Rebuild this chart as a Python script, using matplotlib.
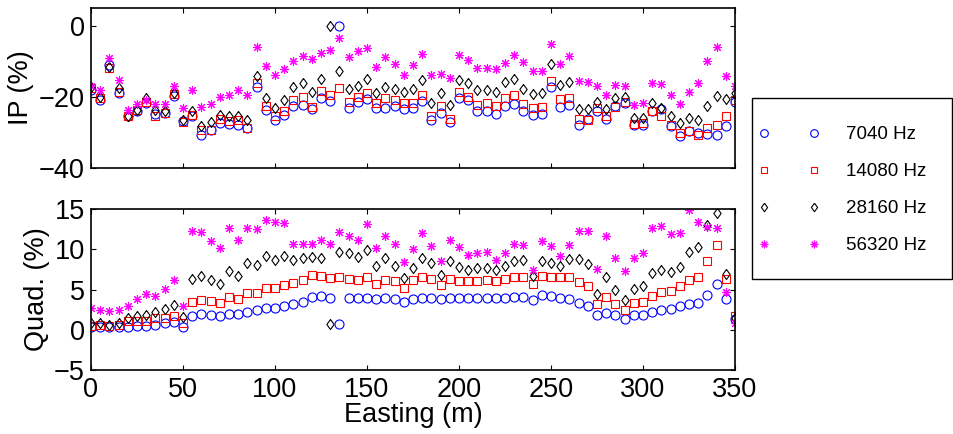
import matplotlib
matplotlib.use("Agg")
import matplotlib.pyplot as plt
import matplotlib.patches as patches
from matplotlib.lines import Line2D

plt.rcParams['font.family'] = ['Liberation Sans', 'DejaVu Sans']

# station positions along the line (m)
easting = list(range(0, 351, 5))

freq_labels = ['7040 Hz', '14080 Hz', '28160 Hz', '56320 Hz']

# in-phase response (%)
ip_7040 = [-18.0, -20.8, -11.0, -18.8, -25.5, -23.9, -21.6, -24.8, -24.6, -19.7,
           -26.9, -25.3, -30.7, -29.4, -27.4, -27.7, -27.9, -28.8, -17.3, -23.6,
           -26.4, -25.1, -22.7, -22.2, -23.4, -20.4, -21.1, -0.1, -23.2, -21.3,
           -20.7, -23.2, -23.2, -22.7, -23.5, -23.2, -21.1, -26.6, -24.4, -27.2,
           -20.2, -20.8, -24.1, -24.1, -24.8, -22.5, -22.0, -24.1, -25.0, -24.8,
           -17.3, -22.9, -22.2, -27.9, -26.3, -23.9, -26.3, -22.7, -21.6, -28.0,
           -28.0, -24.1, -23.5, -28.1, -31.1, -29.7, -30.2, -30.5, -30.8, -28.3,
           -21.3]
ip_14080 = [-17.6, -20.4, -11.8, -18.5, -25.5, -23.8, -21.3, -25.5, -24.4, -19.3,
            -27.2, -25.0, -29.3, -29.3, -26.3, -26.9, -26.4, -28.8, -16.2, -22.5,
            -25.5, -24.1, -20.8, -20.1, -22.9, -18.3, -19.4, -17.4, -21.5, -20.1,
            -19.0, -21.6, -20.4, -20.8, -21.8, -21.6, -19.4, -25.3, -22.5, -26.2,
            -18.7, -19.9, -22.2, -21.8, -22.7, -20.2, -19.4, -22.0, -23.0, -22.9,
            -15.4, -20.6, -20.4, -26.3, -26.4, -23.2, -25.5, -22.9, -21.3, -27.7,
            -27.4, -23.9, -25.5, -27.9, -30.2, -29.7, -30.7, -28.8, -28.0, -25.5,
            -20.8]
ip_28160 = [-17.3, -19.9, -11.5, -17.6, -25.3, -23.6, -20.4, -23.6, -24.1, -19.0,
            -26.4, -23.9, -28.3, -27.2, -25.0, -25.3, -25.3, -26.4, -14.1, -20.2,
            -23.2, -20.8, -17.3, -16.0, -18.5, -15.0, -0.1, -12.6, -17.9, -16.9,
            -15.0, -18.8, -17.3, -17.9, -18.5, -17.9, -15.2, -21.8, -19.0, -22.2,
            -15.2, -16.0, -18.0, -18.0, -18.5, -15.8, -15.0, -17.9, -19.2, -19.0,
            -10.7, -16.6, -15.9, -23.4, -23.4, -21.3, -23.5, -20.4, -20.1, -25.8,
            -25.8, -21.8, -23.2, -25.3, -27.4, -26.0, -26.4, -22.5, -19.7, -20.7,
            -18.8]
ip_56320 = [-16.8, -18.2, -9.2, -15.2, -23.6, -22.0, -20.8, -22.0, -22.0, -16.9,
            -23.2, -18.2, -22.9, -22.0, -19.9, -19.4, -18.0, -19.4, -6.1, -11.2,
            -13.8, -12.2, -10.0, -8.5, -9.4, -7.6, -6.8, -3.4, -8.7, -7.0,
            -6.2, -11.5, -8.7, -10.7, -13.8, -11.0, -7.9, -13.8, -13.6, -14.8,
            -8.2, -9.6, -12.0, -12.0, -12.1, -10.4, -8.2, -10.3, -12.7, -12.6,
            -5.2, -10.8, -8.4, -15.5, -15.9, -16.9, -19.4, -16.6, -16.9, -22.2,
            -21.8, -16.2, -16.4, -19.6, -22.1, -18.7, -16.0, -9.8, -6.1, -14.1,
            -16.9]

# quadrature response (%)
quad_7040 = [0.3, 0.3, 0.3, 0.4, 0.4, 0.5, 0.5, 0.6, 0.8, 1.0,
             0.4, 1.7, 1.9, 1.8, 1.7, 2.0, 1.9, 2.2, 2.4, 2.7,
             2.7, 3.0, 3.2, 3.5, 4.1, 4.2, 4.0, 0.7, 3.9, 3.9,
             4.0, 3.8, 3.9, 3.8, 3.4, 3.8, 4.0, 3.9, 3.8, 4.0,
             3.9, 3.9, 3.9, 3.9, 3.9, 3.9, 4.1, 4.1, 3.7, 4.3,
             4.2, 4.0, 3.8, 3.3, 2.9, 1.8, 2.1, 1.8, 1.3, 1.8,
             1.8, 2.2, 2.5, 2.6, 2.9, 3.2, 3.3, 4.3, 5.7, 3.8,
             1.3]
quad_14080 = [0.5, 0.6, 0.5, 0.6, 1.1, 1.1, 1.1, 1.4, 1.5, 1.7,
              0.8, 3.4, 3.7, 3.6, 3.3, 4.1, 3.8, 4.6, 4.6, 5.2,
              5.2, 5.6, 5.8, 6.2, 6.8, 6.7, 6.4, 6.5, 6.3, 6.2,
              6.6, 5.7, 6.2, 6.1, 5.2, 6.2, 6.5, 6.3, 5.6, 6.3,
              6.1, 6.1, 6.1, 6.2, 6.1, 6.3, 6.5, 6.6, 5.7, 6.7,
              6.5, 6.5, 6.5, 5.9, 5.4, 3.2, 4.1, 3.2, 2.5, 3.3,
              3.5, 4.2, 4.7, 4.8, 5.4, 6.2, 6.6, 8.6, 10.5, 6.3,
              1.7]
quad_28160 = [0.9, 0.9, 0.6, 0.8, 1.4, 1.7, 1.8, 2.2, 2.6, 3.1,
              1.6, 6.3, 6.7, 6.2, 5.7, 7.3, 6.7, 8.3, 8.0, 9.1,
              8.7, 9.1, 8.7, 8.9, 9.0, 8.9, 0.7, 9.7, 9.5, 9.0,
              9.9, 7.9, 8.9, 7.9, 6.4, 7.7, 8.9, 8.3, 6.8, 8.5,
              7.8, 7.4, 7.7, 7.7, 7.4, 7.9, 8.6, 8.7, 6.7, 8.5,
              8.3, 7.9, 8.8, 8.8, 8.2, 4.5, 6.5, 4.9, 3.7, 5.1,
              5.4, 7.0, 7.4, 7.2, 7.8, 9.6, 10.3, 13.0, 14.5, 6.9,
              1.4]
quad_56320 = [2.7, 2.5, 2.3, 2.5, 2.9, 3.8, 4.4, 4.2, 5.1, 6.2,
              2.9, 12.3, 12.1, 11.0, 10.1, 12.7, 11.1, 12.7, 12.5, 13.6,
              13.4, 13.2, 10.6, 10.6, 10.7, 11.1, 10.7, 12.1, 11.6, 11.2,
              13.1, 10.1, 11.7, 10.7, 8.4, 10.0, 12.0, 10.4, 8.5, 11.1,
              10.3, 9.3, 9.5, 9.6, 8.7, 9.5, 10.6, 10.5, 7.4, 11.0,
              10.4, 9.2, 10.5, 12.3, 12.3, 7.6, 11.7, 8.9, 7.3, 8.9,
              9.5, 12.6, 12.9, 11.9, 12.0, 14.9, 13.4, 12.8, 12.7, 4.7,
              0.9]

# tall narrow diamond like the MATLAB one
diamond = [(0, 1), (0.73, 0), (0, -1), (-0.73, 0), (0, 1)]
styles = [
    dict(marker='o', color='#0000ff', ms=6.5),
    dict(marker='s', color='#ff0000', ms=5.3),
    dict(marker=diamond, color='#000000', ms=7.2),
    dict(marker=(8, 2, 0), color='#ff00ff', ms=6.5),
]

fs = 19.5

fig = plt.figure(figsize=(9.54, 4.34), dpi=100)
ax1 = fig.add_axes([91/954, 1 - 168/434, 644/954, 160/434])
ax2 = fig.add_axes([91/954, 1 - 370/434, 644/954, 161/434])

ip_series = [ip_7040, ip_14080, ip_28160, ip_56320]
quad_series = [quad_7040, quad_14080, quad_28160, quad_56320]

for ax, series in [(ax1, ip_series), (ax2, quad_series)]:
    for vals, st, lab in zip(series, styles, freq_labels):
        ax.plot(easting, vals, linestyle='none', marker=st['marker'],
                markersize=st['ms'], markerfacecolor='none',
                markeredgecolor=st['color'], markeredgewidth=0.8, label=lab)
    ax.set_xlim(0, 350)
    ax.set_xticks(range(0, 351, 50))
    ax.tick_params(direction='in', top=True, right=True, length=3.6,
                   width=0.8, labelsize=fs)
    ax.tick_params(axis='x', pad=5)
    ax.tick_params(axis='y', pad=4.3)
    for sp in ax.spines.values():
        sp.set_linewidth(1.2)

ax1.set_ylim(-40, 5)
ax1.set_yticks([-40, -20, 0])
ax1.tick_params(labelbottom=False)
ax1.set_ylabel('IP (%)', fontsize=fs, labelpad=3.5)

ax2.set_ylim(-5, 15)
ax2.set_yticks([-5, 0, 5, 10, 15])
ax2.set_ylabel('Quad. (%)', fontsize=fs, labelpad=3)
ax2.set_xlabel('Easting (m)', fontsize=fs)
ax2.xaxis.set_label_coords(0.5, -0.199)

# legend: two marker samples per entry, frame drawn separately
leg_fs = 13.5
handles = [Line2D([], [], linestyle='none', marker=st['marker'],
                  markersize=st['ms'] * 0.85, markerfacecolor='none',
                  markeredgecolor=st['color'], markeredgewidth=0.8)
           for st in styles]
fig.legend(handles, freq_labels, loc='upper left',
           bbox_to_anchor=(758.4/954, 1 - 126/434), frameon=False,
           numpoints=2, handlelength=3.27, handletextpad=1.41,
           borderpad=0, borderaxespad=0, labelspacing=1.06, fontsize=leg_fs)
fig.add_artist(patches.Rectangle((752/954, 1 - 279/434), 200/954, 181/434,
                                 transform=fig.transFigure, fill=False,
                                 edgecolor='black', linewidth=1.0))

fig.savefig('out.png', dpi=100)
